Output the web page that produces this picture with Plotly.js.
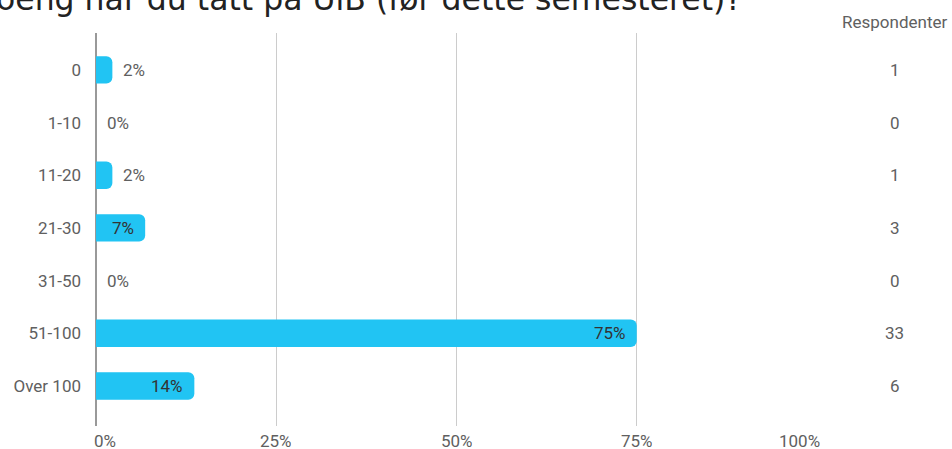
<!DOCTYPE html>
<html>
<head>
<meta charset="utf-8">
<script src="https://cdn.plot.ly/plotly-3.0.1.min.js"></script>
<style>html,body{margin:0;padding:0;background:#fff;}#chart{width:952px;height:449px;}</style>
</head>
<body>
<div id="chart"></div>
<script>
const categories = ["0", "1-10", "11-20", "21-30", "31-50", "51-100", "Over 100"];
const percents = [2.27, 0, 2.27, 6.82, 0, 75, 13.64];
const percentLabels = ["2%", "0%", "2%", "7%", "0%", "75%", "14%"];
const respondents = [1, 0, 1, 3, 0, 33, 6];
const xTicks = [0, 25, 50, 75, 100];
const xTickLabels = ["0%", "25%", "50%", "75%", "100%"];
const titleText = "oeng har du tatt på UiB (før dette semesteret)?";
const columnHeader = "Respondenter";

const barColor = "#21c4f3";
const grey = "#606060";
const fontFamily = "Roboto, sans-serif";
const fs = 17;

const annotations = [];
categories.forEach((c, i) => {
  const inside = percents[i] > 5;
  annotations.push({
    x: percents[i], y: c, xref: "x", yref: "y",
    text: percentLabels[i], showarrow: false,
    xanchor: inside ? "right" : "left",
    xshift: inside ? -9 : 9,
    font: {family: fontFamily, size: fs, color: inside ? "#333333" : grey}
  });
  annotations.push({
    x: 1.108, y: c, xref: "paper", yref: "y",
    text: String(respondents[i]), showarrow: false,
    xanchor: "center",
    font: {family: fontFamily, size: fs, color: grey}
  });
});
xTicks.forEach((v, i) => {
  const first = i === 0, last = i === xTicks.length - 1;
  annotations.push({
    x: v, y: 0, xref: "x", yref: "paper",
    text: xTickLabels[i], showarrow: false,
    xanchor: first ? "left" : (last ? "right" : "center"),
    yanchor: "top", yshift: -5, height: 17, borderpad: 0,
    xshift: first ? -3 : (last ? 4 : 0),
    font: {family: fontFamily, size: fs, color: grey}
  });
});
annotations.push({
  x: 1.108, y: 1, xref: "paper", yref: "paper",
  text: columnHeader, showarrow: false,
  xanchor: "center", yanchor: "bottom", yshift: -1,
  font: {family: fontFamily, size: fs, color: grey}
});
annotations.push({
  x: -0.1415, y: 1, xref: "paper", yref: "paper",
  text: titleText, showarrow: false,
  xanchor: "left", yanchor: "bottom", yshift: 14,
  font: {family: "DejaVu Sans, sans-serif", size: 31.5, color: "#222222"}
});

const trace = {
  type: "bar",
  orientation: "h",
  x: percents,
  y: categories,
  width: 0.52,
  marker: {color: barColor, cornerradius: 6},
  hoverinfo: "none"
};

const layout = {
  width: 952, height: 449,
  margin: {l: 96, r: 135, t: 33, b: 23, pad: 0},
  paper_bgcolor: "#ffffff", plot_bgcolor: "#ffffff",
  showlegend: false,
  xaxis: {
    range: [0, 100], tickvals: xTicks, showticklabels: false,
    showgrid: true, gridcolor: "#cccccc", gridwidth: 1,
    zeroline: true, zerolinecolor: "#999999", zerolinewidth: 2,
    showline: false, fixedrange: true
  },
  yaxis: {
    type: "category", categoryorder: "array", categoryarray: categories,
    range: [6.76, -0.7], showgrid: false, zeroline: false, showline: false,
    ticks: "", ticklabelstandoff: 14,
    tickfont: {family: fontFamily, size: fs, color: grey},
    fixedrange: true
  },
  annotations: annotations
};

Plotly.newPlot("chart", [trace], layout, {displayModeBar: false, staticPlot: true});
</script>
</body>
</html>
